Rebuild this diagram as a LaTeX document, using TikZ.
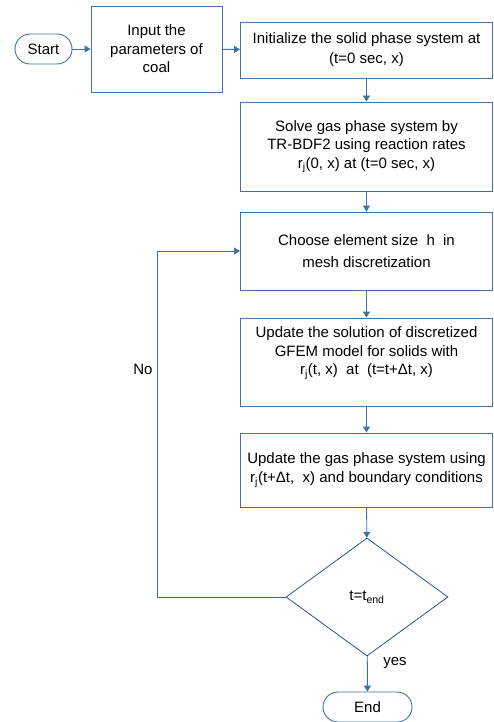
\documentclass[tikz,border=0pt]{standalone}
\usepackage{fontspec}
\setmainfont{Liberation Sans}
\usetikzlibrary{shapes.geometric,arrows.meta,calc}
\definecolor{ln}{RGB}{65,113,156}
\definecolor{dk}{RGB}{47,82,143}
\tikzset{
  box/.style={draw=ln, line width=0.9pt, rectangle, align=center, font=\fontsize{15}{20}\selectfont, inner sep=0pt},
  term/.style={draw=ln, line width=0.9pt, rectangle, rounded corners=15pt, font=\fontsize{15}{20}\selectfont, inner sep=0pt, minimum height=30pt},
  txt/.style={align=center, font=\fontsize{15}{19}\selectfont, inner sep=0pt},
  arr/.style={draw=ln, line width=0.9pt, -{Triangle[width=7pt,length=6pt]}},
}
\begin{document}
\begin{tikzpicture}[x=1pt,y=-1pt]
\useasboundingbox (0,0) rectangle (493,722);
\node[term, minimum width=57pt] (start) at (43.5,49) {Start};
\node[box, minimum width=131pt, minimum height=86pt, font=\fontsize{15}{18.5}\selectfont] (input) at (156.5,49) {Input the\\parameters of\\coal};
\node[box, minimum width=252pt, minimum height=56pt] (init) at (366.5,50) {Initialize the solid phase system at\\(t=0 sec, x)};
\node[box, minimum width=252pt, minimum height=89pt, font=\fontsize{15}{18.5}\selectfont] (solve) at (366.5,146.5) {Solve gas phase system by\\TR-BDF2 using reaction rates\\r\textsubscript{j}(0, x) at (t=0 sec, x)};
\node[box, minimum width=252pt, minimum height=78pt, font=\fontsize{15}{22}\selectfont] (choose) at (366.5,251) {Choose element size\ \ h\ \ in\\mesh discretization};
\node[box, minimum width=252pt, minimum height=88pt] (upd) at (366.5,362) {};
\node[txt, font=\fontsize{15}{18.5}\selectfont] (updt) at (366.5,353) {Update the solution of discretized\\GFEM model for solids with\\r\textsubscript{j}(t, x)\ \ at\ \ (t=t+Δt, x)};
\node[box, minimum width=252pt, minimum height=74pt, font=\fontsize{15}{19}\selectfont] (gas) at (366.5,470) {Update the gas phase system using\\r\textsubscript{j}(t+Δt,\ \ x) and boundary conditions};
\node[draw=dk, line width=0.8pt, diamond, minimum width=162pt, minimum height=118pt, aspect=1.37, inner sep=0pt, font=\fontsize{15}{18}\selectfont] (dec) at (367,597) {t=t\textsubscript{end}};
\node[term, minimum width=89pt] (end) at (367.5,707) {End};
\coordinate (corner) at (157,597);
\node[txt] (no) at (143,369) {No};
\node[txt] (yes) at (395,663) {yes};
\draw[arr] (start) -- (input);
\draw[arr] (input) -- (init);
\draw[arr] (init) -- (solve);
\draw[arr] (solve) -- (choose);
\draw[arr] (choose) -- (upd);
\draw[arr] (upd) -- (gas);
\draw[arr] (gas) -- (dec);
\draw[arr] (dec) -- (end);
\draw[arr] (dec.west) -- (corner) |- (choose.west);
\end{tikzpicture}
\end{document}
